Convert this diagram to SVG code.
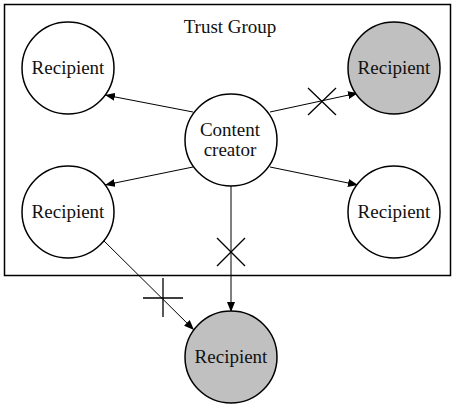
<svg xmlns="http://www.w3.org/2000/svg" width="454" height="406" viewBox="0 0 454 406">
<style>
.node{stroke:#000;stroke-width:1.5}
.w{fill:#fff}
.g{fill:#c0c0c0}
text{font-family:"Liberation Serif","Times New Roman",serif;font-size:19px;fill:#111;text-anchor:middle}
.c{stroke:#000;stroke-width:1;fill:none}
.x{stroke:#000;stroke-width:1.3;fill:none}
</style>
<defs>
<marker id="ah" viewBox="0 0 10 8" refX="10" refY="4" markerWidth="10" markerHeight="8" markerUnits="userSpaceOnUse" orient="auto">
<path d="M0,0 L10,4 L0,8 Z" fill="#000"/>
</marker>
</defs>
<g id="trust-group">
<rect x="4.5" y="4.5" width="446" height="271" fill="#fff" stroke="#000" stroke-width="1.5"/>
<text x="230" y="33">Trust Group</text>
</g>
<g id="connectors">
<line class="c" x1="193" y1="112" x2="105" y2="95" marker-end="url(#ah)"/>
<line class="c" x1="270" y1="112" x2="358" y2="93" marker-end="url(#ah)"/>
<line class="c" x1="193" y1="167" x2="105" y2="185" marker-end="url(#ah)"/>
<line class="c" x1="270" y1="167" x2="358" y2="185" marker-end="url(#ah)"/>
<line class="c" x1="231" y1="186" x2="231" y2="312" marker-end="url(#ah)"/>
<line class="c" x1="101" y1="238" x2="194" y2="330" marker-end="url(#ah)"/>
<path class="x" d="M308,88 L336,115 M308,115 L336,88"/>
<path class="x" d="M217,238 L245,266 M217,266 L245,238"/>
<path class="x" d="M143,298 L183,298 M163,278 L163,317"/>
</g>
<g id="recipient-tl"><circle class="node w" cx="68" cy="68" r="46"/><text x="68" y="74">Recipient</text></g>
<g id="recipient-tr"><circle class="node g" cx="394" cy="68" r="46"/><text x="394" y="74">Recipient</text></g>
<g id="content-creator"><circle class="node w" cx="231" cy="140" r="46"/><text x="230" y="136">Content</text><text x="230" y="156">creator</text></g>
<g id="recipient-ml"><circle class="node w" cx="68" cy="212" r="46"/><text x="68" y="218">Recipient</text></g>
<g id="recipient-mr"><circle class="node w" cx="394" cy="212" r="46"/><text x="394" y="218">Recipient</text></g>
<g id="recipient-bottom"><circle class="node g" cx="231" cy="357" r="46"/><text x="231" y="363">Recipient</text></g>
</svg>
